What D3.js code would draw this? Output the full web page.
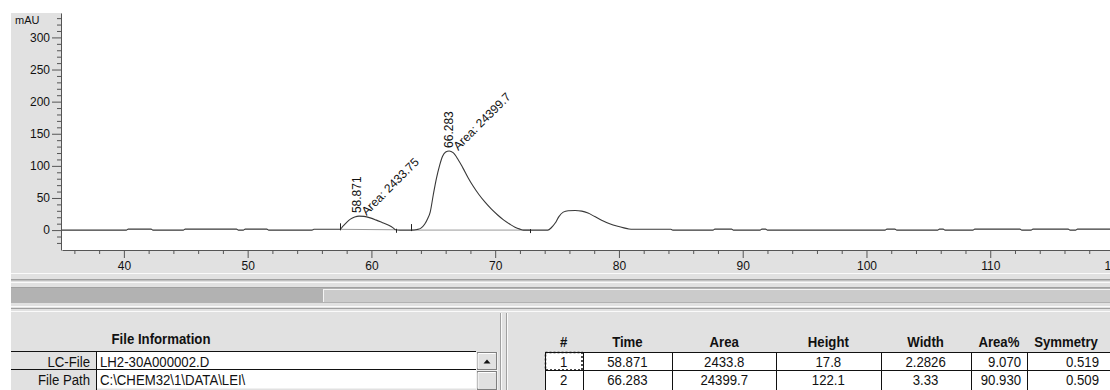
<!DOCTYPE html>
<html>
<head>
<meta charset="utf-8">
<script src="https://cdn.jsdelivr.net/npm/d3@7"></script>
<style>
body { margin: 0; background: #fff; }
svg { display: block; font-family: "Liberation Sans", Arial, sans-serif; }
</style>
</head>
<body>
<script>
// chromatogram trace, [time (min), signal (mAU)]
var trace = [
  [35.0,0],[40.2,0],[40.35,1.5],[42.2,1.5],[42.35,0],
  [44.8,0],[44.95,1.5],[49.1,1.5],[49.25,0],[49.65,0],[49.8,1.5],[51.55,1.5],[51.7,0],
  [55.2,0],[55.35,1.2],[57.45,1.2],
  [57.7,6],[58.0,12],[58.3,17],[58.65,20.5],[59.0,21.8],[59.4,21.3],[59.9,19],[60.4,15.5],
  [60.9,11.5],[61.4,7.5],[61.75,3.5],[61.95,0.5],
  [62.3,0],[63.2,0],[63.7,1],[64.0,3],[64.3,9],[64.55,18],[64.75,28],[65.0,55],[65.25,80],
  [65.5,100],[65.75,115],[66.0,121.5],[66.28,123.2],[66.6,120.5],[67.0,110],[67.4,96.5],[67.8,82],
  [68.2,69],[68.7,55],[69.2,43],[69.7,32.5],[70.2,23.5],[70.7,15.5],[71.2,9],[71.6,4.5],[72.0,1.5],
  [72.3,0],[74.25,0],[74.55,4],[74.85,11],[75.15,21],[75.5,28],[75.9,30.2],[76.45,30.5],
  [77.0,29.5],[77.5,26.5],[78.05,21],[78.6,15.5],[79.25,10],[79.9,6],[80.4,3.5],[80.8,1.8],[81.1,1.2],
  [84.2,1.2],[84.35,0],[87.6,0],[87.75,1.5],[89.1,1.5],[89.25,0],[91.4,0],[91.55,1.5],[91.85,1.5],[92.0,0],
  [101.5,0],[101.65,1.5],[102.3,1.5],[102.45,0],[105.75,0],[105.9,1.5],[106.2,1.5],[106.35,0],
  [108.6,0],[108.75,1.5],[112.4,1.5],[112.55,0],[113.3,0],[113.45,1.5],[116.3,1.5],[116.45,0],
  [116.9,0],[117.05,1.5],[120,1.5]
];

// integrated peaks
var peakTimes = ["58.871", "66.283"];
var peakAreas = ["2433.75", "24399.7"];
var peakStarts = [[57.45, 1.2], [63.2, 0]];
var peakEnds = [[61.95, 0.5], [72.8, 0]];

// axis ticks
var xTicks = [40, 50, 60, 70, 80, 90, 100, 110, 120];
var yTicks = [0, 50, 100, 150, 200, 250, 300];

// tables
var fileInfoLabels = ["LC-File", "File Path"];
var fileInfoValues = ["LH2-30A000002.D", "C:\\CHEM32\\1\\DATA\\LEI\\"];
var peakHeaders = ["#", "Time", "Area", "Height", "Width", "Area%", "Symmetry"];
var peakRows = [
  ["1", "58.871", "2433.8", "17.8", "2.2826", "9.070", "0.519"],
  ["2", "66.283", "24399.7", "122.1", "3.33", "90.930", "0.509"]
];

var w = 1110, h = 390;
var panel = "#e1e1e1", dark = "#a0a0a0";

var svg = d3.select("body").append("svg").attr("width", w).attr("height", h);

// window panels
svg.append("rect").attr("x", 11).attr("y", 13).attr("width", w - 11).attr("height", h - 13).attr("fill", panel);
svg.append("rect").attr("x", 62).attr("y", 0).attr("width", w - 62).attr("height", 250).attr("fill", "#fff");

// scales
var x = d3.scaleLinear().domain([35, 120]).range([62, 1114]);
var y = d3.scaleLinear().domain([-31, 338]).range([250, 13]);

// axes
var gx = svg.append("g").attr("transform", "translate(0,250)")
  .call(d3.axisBottom(x).tickValues(xTicks).tickSize(8).tickSizeOuter(0).tickPadding(3));
var gxm = svg.append("g").attr("transform", "translate(0,250)")
  .call(d3.axisBottom(x).tickValues(d3.range(36, 121, 2).filter(function(d){ return d % 10; })).tickSize(4).tickFormat(""));
gxm.select(".domain").remove();

var gy = svg.append("g").attr("transform", "translate(61,0)")
  .call(d3.axisLeft(y).tickValues(yTicks).tickSize(9).tickSizeOuter(0).tickPadding(2));
var gym = svg.append("g").attr("transform", "translate(61,0)")
  .call(d3.axisLeft(y).tickValues(d3.range(-20, 340, 10).filter(function(d){ return d % 50; })).tickSize(4).tickFormat(""));
gym.select(".domain").remove();

svg.selectAll(".tick text").attr("font-size", 12).attr("font-family", "Liberation Sans, Arial, sans-serif").attr("fill", "#111");
svg.selectAll(".domain, .tick line").attr("stroke", "#555");

svg.append("text").attr("x", 15).attr("y", 24).attr("font-size", 11).attr("fill", "#111").text("mAU");

// trace
var plot = svg.append("g");
svg.append("clipPath").attr("id", "clip").append("rect").attr("x", 62).attr("y", 0).attr("width", w - 62).attr("height", 250);
plot.attr("clip-path", "url(#clip)");

// integration baselines
peakStarts.forEach(function(s, i) {
  var e = peakEnds[i];
  plot.append("line").attr("x1", x(s[0])).attr("y1", y(s[1])).attr("x2", x(e[0])).attr("y2", y(e[1]))
    .attr("stroke", "#9a9a9a").attr("stroke-width", 1);
});

var line = d3.line().x(function(d){ return x(d[0]); }).y(function(d){ return y(d[1]); }).curve(d3.curveMonotoneX);
plot.append("path").datum(trace).attr("d", line).attr("fill", "none").attr("stroke", "#383838").attr("stroke-width", 1.1);

// peak start / end markers
peakStarts.forEach(function(s) {
  var px = Math.round(x(s[0])) + 0.5, py = y(s[1]);
  plot.append("line").attr("x1", px).attr("x2", px).attr("y1", py - 6).attr("y2", py + 1).attr("stroke", "#222");
});
peakEnds.forEach(function(e) {
  var px = Math.round(x(e[0])) + 0.5, py = y(e[1]);
  plot.append("line").attr("x1", px).attr("x2", px).attr("y1", py - 1).attr("y2", py + 3).attr("stroke", "#222");
});

// peak labels
peakTimes.forEach(function(t, i) {
  var tt = +t;
  var apex = d3.max(trace.filter(function(d){ return Math.abs(d[0] - tt) < 0.6; }), function(d){ return d[1]; });
  var ax = x(tt), ay = y(apex);
  svg.append("text").attr("transform", "translate(" + (ax + 4) + "," + (ay - 3) + ") rotate(-90)")
    .attr("font-size", 12).attr("fill", "#111").text(t);
  svg.append("text").attr("transform", "translate(" + (ax + 9) + "," + (ay) + ") rotate(-45)")
    .attr("font-size", 12).attr("fill", "#111").text("Area: " + peakAreas[i]);
});

// splitter + horizontal scrollbar
function hline(yy, col, x1, x2) {
  svg.append("line").attr("x1", x1 || 11).attr("x2", x2 || w).attr("y1", yy).attr("y2", yy).attr("stroke", col);
}
function vline(xx, col, y1, y2) {
  svg.append("line").attr("x1", xx).attr("x2", xx).attr("y1", y1).attr("y2", y2).attr("stroke", col);
}
hline(273.5, "#fafafa");
hline(279.5, dark);
hline(280.5, "#c0c0c0");
hline(282.5, "#fafafa");
hline(287.5, dark);
svg.append("rect").attr("x", 11).attr("y", 288).attr("width", w - 11).attr("height", 15).attr("fill", "#b2b2b2");
svg.append("rect").attr("x", 323).attr("y", 289).attr("width", w - 323).attr("height", 13).attr("fill", "#cbcbcb");
hline(289.5, "#f4f4f4", 323, w);
vline(323.5, "#f4f4f4", 289, 302);
hline(306.5, "#fafafa");
hline(308.5, dark);
hline(311.5, "#fafafa");

// panel divider
vline(500.5, dark, 313, h);
vline(501.5, "#fafafa", 313, h);
vline(506.5, dark, 313, h);
vline(507.5, "#fafafa", 313, h);

// table text helper: narrow system font look
function txt(g, tx, ty, s, anchor, bold) {
  return g.append("text")
    .attr("transform", "translate(" + tx + "," + ty + ") scale(0.88,1)")
    .attr("text-anchor", anchor || "start")
    .attr("font-size", 15)
    .attr("font-weight", bold ? "bold" : "normal")
    .attr("fill", "#111")
    .text(s);
}

// file information table
var left = svg.append("g");
var rowTop = [352, 370], rowH = 18.5;
txt(left, 161, 344, "File Information", "middle", true);
fileInfoLabels.forEach(function(lb, i) {
  left.append("rect").attr("x", 97).attr("y", rowTop[i]).attr("width", 379).attr("height", rowH).attr("fill", "#fff");
  txt(left, 90, rowTop[i] + 14.5, lb, "end");
  txt(left, 100, rowTop[i] + 14.5, fileInfoValues[i], "start");
});
hline(351.5, "#111", 11, 476);
hline(369.5, "#111", 11, 476);
vline(96.5, "#111", 352, h);
// vertical scrollbar of the info table
left.append("rect").attr("x", 476).attr("y", 352).attr("width", 22).attr("height", h - 352).attr("fill", "#f0f0f0");
[[477, 352, 20, 18], [477, 371, 20, 19]].forEach(function(b) {
  left.append("rect").attr("x", b[0] + 0.5).attr("y", b[1] + 0.5).attr("width", b[2] - 1).attr("height", b[3] - 1)
    .attr("fill", panel).attr("stroke", "#808080");
  left.append("path").attr("d", "M" + (b[0] + 1) + "," + (b[1] + b[3] - 1.5) + "V" + (b[1] + 1.5) + "H" + (b[0] + b[2] - 1.5))
    .attr("fill", "none").attr("stroke", "#fff");
});
left.append("path").attr("d", "M483.5,363.5 L487,359.5 L490.5,363.5 Z").attr("fill", "#111");

// peak table: columns 5 and 6 are right aligned, the others centred
var right = svg.append("g");
var colX = [545, 582.5, 672.3, 776.2, 880.5, 970.7, 1027.1, 1105];
right.append("rect").attr("x", colX[0]).attr("y", 352).attr("width", w - colX[0]).attr("height", h - 352).attr("fill", "#fff");
peakHeaders.forEach(function(hd, i) {
  txt(right, (colX[i] + colX[i + 1]) / 2, 347, hd, "middle", true);
});
peakRows.forEach(function(r, j) {
  r.forEach(function(v, i) {
    if (i >= 5) txt(right, colX[i + 1] - 6, rowTop[j] + 14.5, v, "end");
    else txt(right, (colX[i] + colX[i + 1]) / 2, rowTop[j] + 14.5, v, "middle");
  });
});
hline(352.5, "#111", colX[0], w);
hline(370.5, "#111", colX[0], w);
colX.slice(0, 7).forEach(function(cx) { vline(Math.round(cx) + 0.5, "#111", 352, h); });
// focus rectangle on the first cell
right.append("rect").attr("x", colX[0] + 0.5).attr("y", 352.5).attr("width", colX[1] - colX[0] - 1).attr("height", 17.5)
  .attr("fill", "none").attr("stroke", "#111").attr("stroke-width", 1.5).attr("stroke-dasharray", "2,2");
</script>
</body>
</html>
